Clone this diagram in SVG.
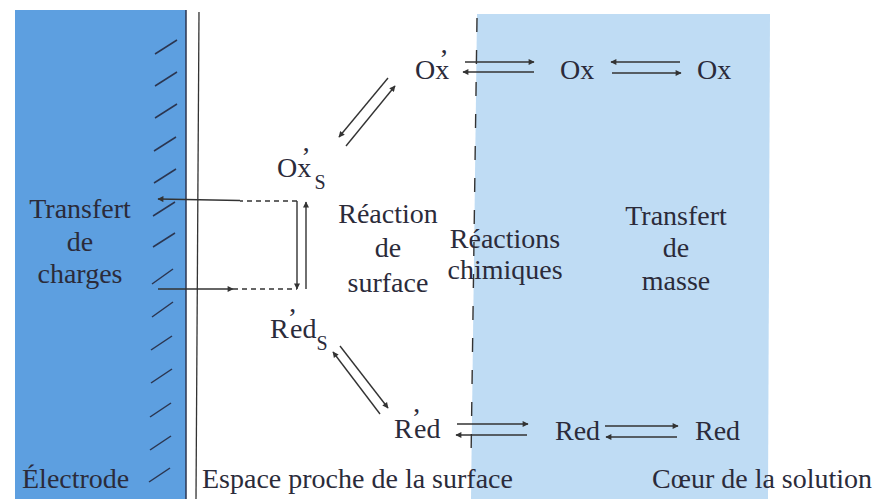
<svg xmlns="http://www.w3.org/2000/svg" width="879" height="499" viewBox="0 0 879 499">
<defs>
<marker id="ah" viewBox="0 0 10 10" refX="9" refY="5" markerWidth="8" markerHeight="6" markerUnits="userSpaceOnUse" orient="auto">
<path d="M0,0 L10,5 L0,10 z" fill="#333"/>
</marker>
<style>
text{font-family:"Liberation Serif","DejaVu Serif",serif;font-size:28px;fill:#2b2b3a}
.c{text-anchor:middle}
.sub{font-size:20px}
.ar{stroke:#333;stroke-width:1.4;fill:none;marker-end:url(#ah)}
.ds{stroke:#333;stroke-width:1.4;fill:none;stroke-dasharray:5 4}
.hatch{stroke:#2b3550;stroke-width:1.5}
</style>
</defs>
<rect width="879" height="499" fill="#ffffff"/>
<g id="solution-bg">
<polygon points="477,14 770,14 768,499 471,499" fill="#bfdcf4"/>
<line x1="477" y1="18" x2="471" y2="462" stroke="#333" stroke-width="1.4" stroke-dasharray="14 18"/>
</g>
<g id="electrode">
<rect x="15" y="10" width="171" height="489" fill="#5d9fe0"/>
<line x1="186" y1="10" x2="186" y2="499" stroke="#2b3550" stroke-width="1.5"/>
<g class="hatch">
<line x1="155" y1="54" x2="177" y2="40"/>
<line x1="155" y1="86" x2="177" y2="72"/>
<line x1="155" y1="118" x2="177" y2="104"/>
<line x1="154" y1="151" x2="176" y2="137"/>
<line x1="154" y1="183" x2="176" y2="169"/>
<line x1="153" y1="216" x2="175" y2="202"/>
<line x1="153" y1="247" x2="175" y2="233"/>
<line x1="152" y1="284" x2="173" y2="269"/>
<line x1="152" y1="317" x2="173" y2="302"/>
<line x1="151" y1="350" x2="172" y2="336"/>
<line x1="151" y1="383" x2="172" y2="369"/>
<line x1="150" y1="417" x2="171" y2="403"/>
<line x1="150" y1="450" x2="171" y2="436"/>
<line x1="149" y1="482" x2="170" y2="468"/>
</g>
<text class="c" x="80" y="218">Transfert</text>
<text class="c" x="80" y="251">de</text>
<text class="c" x="80" y="283">charges</text>
<text x="22" y="488">Électrode</text>
</g>
<g id="near-surface">
<line x1="199" y1="12" x2="196" y2="499" stroke="#333" stroke-width="1.3"/>
<text x="202" y="488">Espace proche de la surface</text>
</g>
<g id="solution">
<text x="652" y="488">Cœur de la solution</text>
</g>
<g id="labels">
<text class="c" x="388" y="223">Réaction</text>
<text class="c" x="388" y="257">de</text>
<text class="c" x="388" y="292">surface</text>
<text class="c" x="505" y="248">Réactions</text>
<text class="c" x="505" y="279">chimiques</text>
<text class="c" x="676" y="225">Transfert</text>
<text class="c" x="676" y="257">de</text>
<text class="c" x="676" y="290">masse</text>
</g>
<g id="ox-prime">
<text x="415" y="79">Ox<tspan dx="-10" dy="-11">’</tspan></text>
</g>
<g id="ox-1"><text x="560" y="79">Ox</text></g>
<g id="ox-2"><text x="697" y="79">Ox</text></g>
<g id="ox-prime-s">
<text x="277" y="177">Ox<tspan dx="-10" dy="-11">’</tspan><tspan class="sub" dx="4" dy="23">S</tspan></text>
</g>
<g id="red-prime-s">
<text x="270" y="338">R<tspan dx="-1" dy="-11">’</tspan><tspan dx="-7" dy="11">ed</tspan><tspan class="sub" dy="12">S</tspan></text>
</g>
<g id="red-prime">
<text x="394" y="438">R<tspan dx="-1" dy="-11">’</tspan><tspan dx="-7" dy="11">ed</tspan></text>
</g>
<g id="red-1"><text x="555" y="440">Red</text></g>
<g id="red-2"><text x="695" y="440">Red</text></g>
<g id="connectors">
<line class="ar" x1="465" y1="62" x2="534" y2="62"/>
<line class="ar" x1="534" y1="72" x2="463" y2="72"/>
<line class="ar" x1="680" y1="62" x2="611" y2="62"/>
<line class="ar" x1="612" y1="73" x2="681" y2="73"/>
<line class="ar" x1="388" y1="78" x2="339" y2="137"/>
<line class="ar" x1="346" y1="146" x2="395" y2="86"/>
<line class="ar" x1="380" y1="414" x2="333" y2="352"/>
<line class="ar" x1="340" y1="346" x2="388" y2="408"/>
<line class="ar" x1="457" y1="424" x2="528" y2="424"/>
<line class="ar" x1="527" y1="435" x2="456" y2="435"/>
<line class="ar" x1="605" y1="426" x2="678" y2="426"/>
<line class="ar" x1="677" y1="437" x2="606" y2="437"/>
<line class="ds" x1="297" y1="201" x2="240" y2="201"/>
<line class="ar" x1="240" y1="200.5" x2="158" y2="199"/>
<line class="ar" x1="297" y1="201" x2="297" y2="289"/>
<line class="ar" x1="158" y1="289" x2="233" y2="289"/>
<line class="ds" x1="233" y1="289" x2="297" y2="289"/>
<line class="ar" x1="306" y1="289" x2="306" y2="202"/>
</g>
</svg>
